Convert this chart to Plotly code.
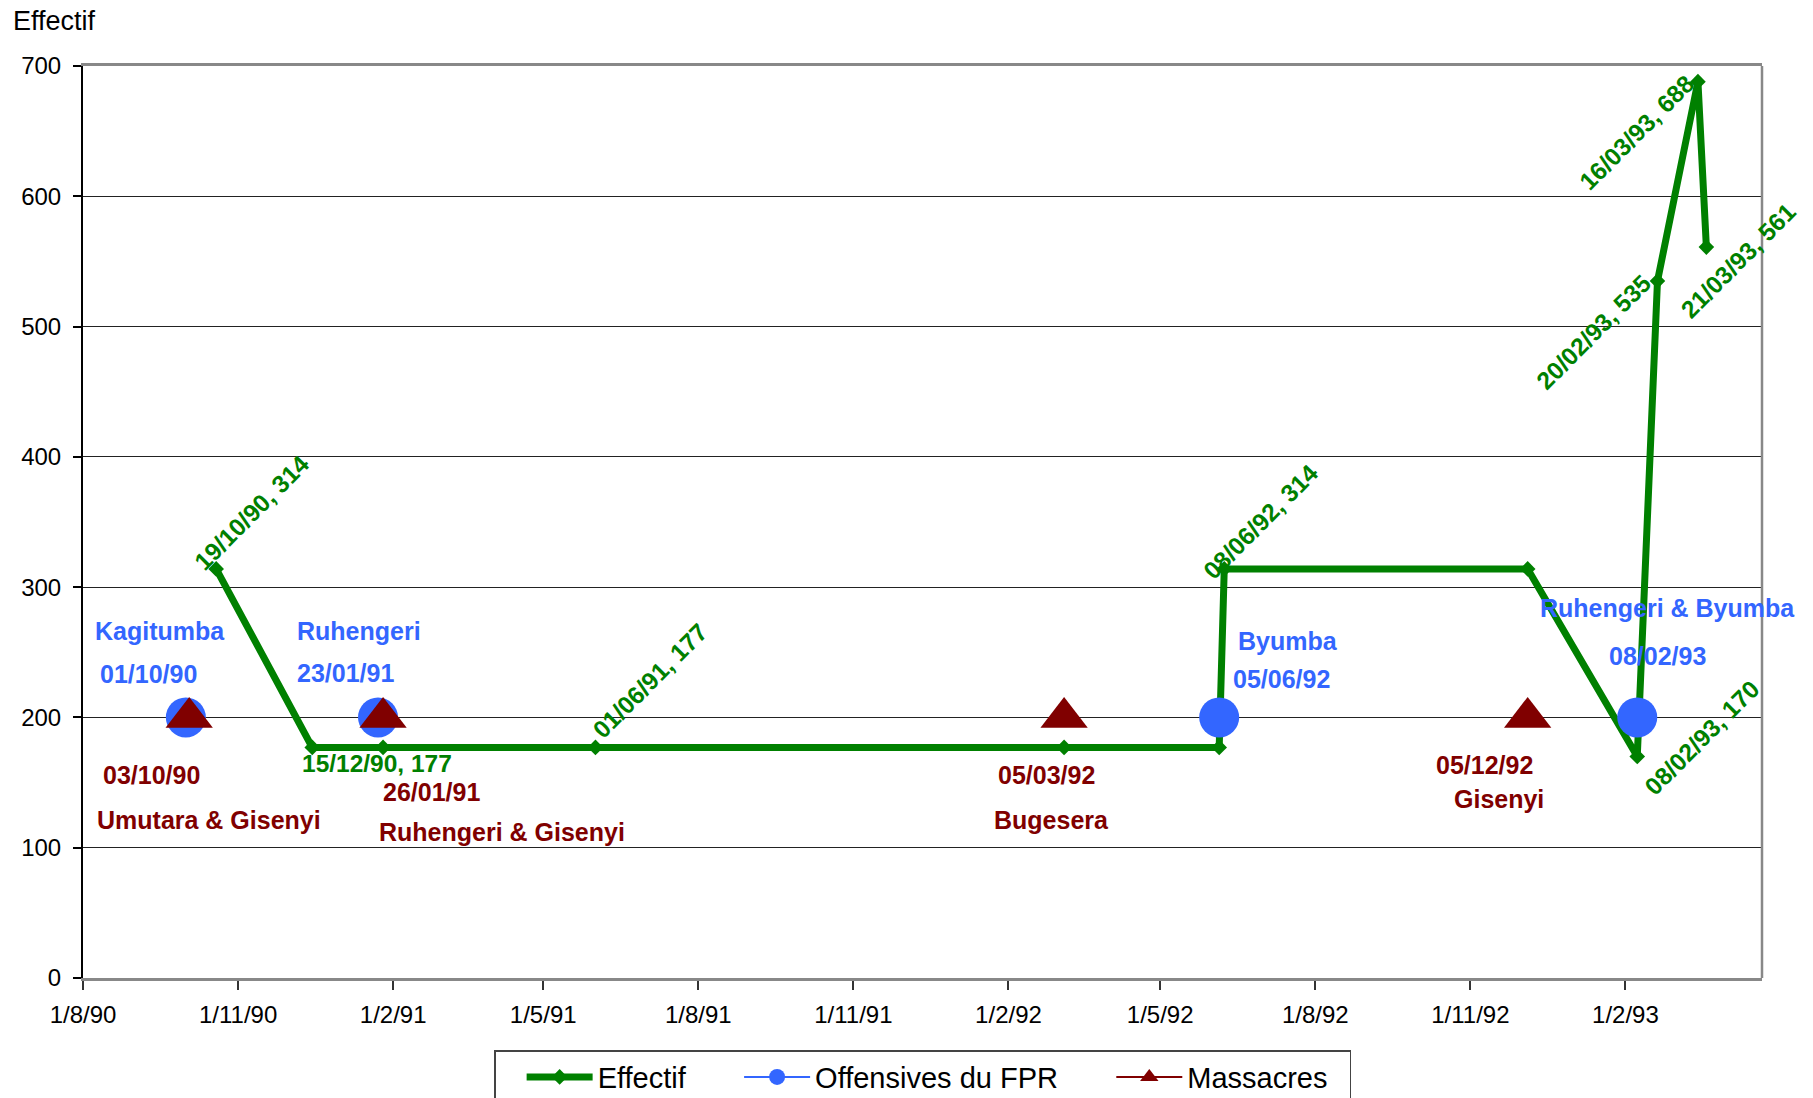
import plotly.graph_objects as go

# ---------------- data ----------------
eff_dates = ["1990-10-19", "1990-12-15", "1991-01-26", "1991-06-01", "1992-03-05",
             "1992-06-05", "1992-06-08", "1992-12-05", "1993-02-08", "1993-02-20",
             "1993-03-16", "1993-03-21"]
eff_values = [314, 177, 177, 177, 177, 177, 314, 314, 170, 535, 688, 561]
eff_labels = ["19/10/90, 314", "15/12/90, 177", "", "01/06/91, 177", "",
              "", "08/06/92, 314", "", "08/02/93, 170", "20/02/93, 535",
              "16/03/93, 688", "21/03/93, 561"]

off_dates = ["1990-10-01", "1991-01-23", "1992-06-05", "1993-02-08"]
off_values = [200, 200, 200, 200]
off_places = ["Kagitumba", "Ruhengeri", "Byumba", "Ruhengeri & Byumba"]
off_date_labels = ["01/10/90", "23/01/91", "05/06/92", "08/02/93"]

mas_dates = ["1990-10-03", "1991-01-26", "1992-03-05", "1992-12-05"]
mas_values = [200, 200, 200, 200]
mas_places = ["Umutara & Gisenyi", "Ruhengeri & Gisenyi", "Bugesera", "Gisenyi"]
mas_date_labels = ["03/10/90", "26/01/91", "05/03/92", "05/12/92"]

x_tickvals = ["1990-08-01", "1990-11-01", "1991-02-01", "1991-05-01", "1991-08-01",
              "1991-11-01", "1992-02-01", "1992-05-01", "1992-08-01", "1992-11-01",
              "1993-02-01"]
x_ticktext = ["1/8/90", "1/11/90", "1/2/91", "1/5/91", "1/8/91", "1/11/91",
              "1/2/92", "1/5/92", "1/8/92", "1/11/92", "1/2/93"]
y_tickvals = [0, 100, 200, 300, 400, 500, 600, 700]

legend_names = ["Effectif", "Offensives du FPR", "Massacres"]

# ---------------- styles / label placement ----------------
GREEN = "#008000"
BLUE = "#3366FF"
RED = "#800000"
FONT = "Liberation Sans, Arial, sans-serif"
NB = "\u00a0"  # spacing used inside the legend
legend_pads = [NB * 6, NB * 6, NB * 2]

# (xshift, yshift, angle) for the Effectif labels
eff_offsets = [(36, 56, -45), (65, -16, 0), None, (55, 67, -45), None,
               None, (37, 47, -45), None, (65, 19, -45), (-63, -51, -45),
               (-61, -51, -45), (32, -13, -45)]
off_place_off = [(-26, 86), (-19, 86), (69, 76), (30, 109)]
off_date_off = [(-37, 43), (-33, 44), (62, 38), (20, 61)]
mas_date_off = [(-38, -58), (48, -75), (-18, -58), (-43, -48)]
mas_place_off = [(20, -103), (119, -115), (-13, -103), (-29, -82)]

fig = go.Figure()

fig.add_trace(go.Scatter(
    x=eff_dates, y=eff_values, mode="lines+markers", name=legend_names[0],
    line=dict(color=GREEN, width=7),
    marker=dict(symbol="diamond", size=12, color=GREEN),
    showlegend=False,
))
fig.add_trace(go.Scatter(
    x=off_dates, y=off_values, mode="markers", name=legend_names[1],
    marker=dict(symbol="circle", size=40, color=BLUE),
    showlegend=False,
))
fig.add_trace(go.Scatter(
    x=mas_dates, y=mas_values, mode="markers", name=legend_names[2],
    marker=dict(symbol="triangle-up", size=41, color=RED),
    showlegend=False,
))

# legend-only entries (line + marker samples like the original)
fig.add_trace(go.Scatter(x=[None], y=[None], mode="lines+markers",
                         name=legend_names[0] + legend_pads[0],
                         line=dict(color=GREEN, width=7),
                         marker=dict(symbol="diamond", size=12, color=GREEN)))
fig.add_trace(go.Scatter(x=[None], y=[None], mode="lines+markers",
                         name=legend_names[1] + legend_pads[1],
                         line=dict(color=BLUE, width=2),
                         marker=dict(symbol="circle", size=16, color=BLUE)))
fig.add_trace(go.Scatter(x=[None], y=[None], mode="lines+markers",
                         name=legend_names[2] + legend_pads[2],
                         line=dict(color=RED, width=2),
                         marker=dict(symbol="triangle-up", size=16, color=RED)))

annotations = []
lab_font = dict(family=FONT, size=25, weight="bold")
eff_font = dict(family=FONT, size=24.5, weight="bold")
for d, v, t, o in zip(eff_dates, eff_values, eff_labels, eff_offsets):
    if not t:
        continue
    annotations.append(dict(x=d, y=v, xref="x", yref="y", text=t, showarrow=False,
                            xshift=o[0], yshift=o[1], textangle=o[2],
                            xanchor="center", yanchor="middle",
                            font=dict(eff_font, color=GREEN)))
for d, v, p, dl, po, do in zip(off_dates, off_values, off_places, off_date_labels,
                               off_place_off, off_date_off):
    annotations.append(dict(x=d, y=v, xref="x", yref="y", text=p, showarrow=False,
                            xshift=po[0], yshift=po[1], xanchor="center", yanchor="middle",
                            font=dict(lab_font, color=BLUE)))
    annotations.append(dict(x=d, y=v, xref="x", yref="y", text=dl, showarrow=False,
                            xshift=do[0], yshift=do[1], xanchor="center", yanchor="middle",
                            font=dict(lab_font, color=BLUE)))
for d, v, p, dl, po, do in zip(mas_dates, mas_values, mas_places, mas_date_labels,
                               mas_place_off, mas_date_off):
    annotations.append(dict(x=d, y=v, xref="x", yref="y", text=p, showarrow=False,
                            xshift=po[0], yshift=po[1], xanchor="center", yanchor="middle",
                            font=dict(lab_font, color=RED)))
    annotations.append(dict(x=d, y=v, xref="x", yref="y", text=dl, showarrow=False,
                            xshift=do[0], yshift=do[1], xanchor="center", yanchor="middle",
                            font=dict(lab_font, color=RED)))

# axis title "Effectif" (horizontal, top-left)
annotations.append(dict(x=0, y=1, xref="paper", yref="paper", text="Effectif",
                        showarrow=False, xanchor="left", yanchor="middle",
                        xshift=-72, yshift=45,
                        font=dict(family=FONT, size=27, color="black")))

fig.update_layout(
    width=1813, height=1098,
    margin=dict(l=83, r=51, t=66, b=120, autoexpand=False),
    paper_bgcolor="white", plot_bgcolor="white",
    font=dict(family=FONT, color="black"),
    annotations=annotations,
    showlegend=True,
    legend=dict(orientation="h", x=0.5, xanchor="center", y=-0.079, yanchor="top",
                bordercolor="#444444", borderwidth=1.5, bgcolor="white",
                font=dict(family=FONT, size=29, color="black"),
                title=dict(text=NB * 2, side="left", font=dict(family=FONT, size=29)),
                itemwidth=66, tracegroupgap=0),
    shapes=[dict(type="line", xref="paper", yref="paper", x0=1, x1=1, y0=0, y1=1,
                 line=dict(color="#888888", width=2.5))],
    xaxis=dict(
        range=["1990-08-01", "1993-04-23"],
        tickvals=x_tickvals, ticktext=x_ticktext,
        ticks="outside", ticklen=9, tickcolor="#333333", tickwidth=1.5,
        tickfont=dict(family=FONT, size=24, color="black"),
        ticklabelstandoff=4,
        showgrid=False, zeroline=False,
        showline=True, linecolor="#888888", linewidth=3, mirror=True,
    ),
    yaxis=dict(
        range=[0, 700],
        tickvals=y_tickvals,
        ticks="outside", ticklen=8, tickcolor="black", tickwidth=1.5,
        tickfont=dict(family=FONT, size=24, color="black"),
        ticklabelstandoff=7,
        showgrid=True, gridcolor="#222222", gridwidth=1.2,
        zeroline=False,
        showline=True, linecolor="black", linewidth=2, mirror=False,
    ),
)

fig.write_html("out.html", config={"displayModeBar": False},
               post_script="document.body.style.margin='0';")
